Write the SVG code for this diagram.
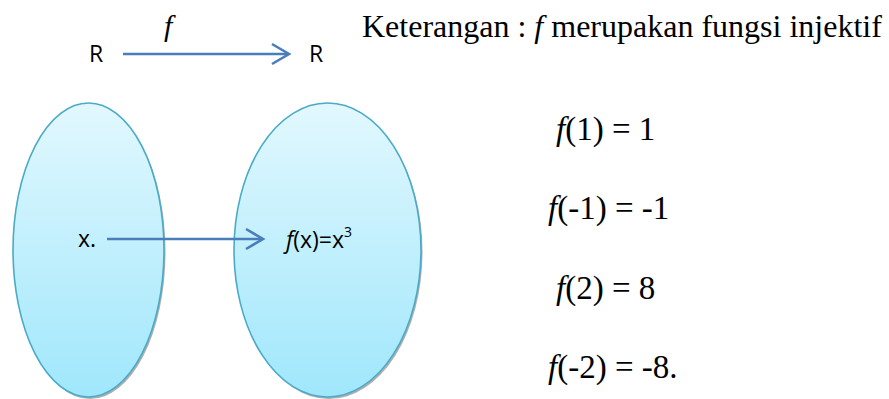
<svg xmlns="http://www.w3.org/2000/svg" width="889" height="399" viewBox="0 0 889 399">
<style>
.sans{font-family:"Open Sans","Liberation Sans",sans-serif;font-size:23px;fill:#000}
.serif{font-family:"Liberation Serif","Times New Roman",serif;fill:#000}
.it{font-style:italic}
.set{fill:url(#g);stroke:#4aabc8;stroke-width:1.6}
.shadow{fill:#9a9a9a;opacity:0.8}
.arrow{stroke:#4a7ebb;stroke-width:2.6;fill:none}
</style>
<defs>
<linearGradient id="g" x1="0" y1="0" x2="0" y2="1">
<stop offset="0" stop-color="#e2f8fe"/>
<stop offset="1" stop-color="#a0e7fc"/>
</linearGradient>
</defs>
<g id="setA">
<ellipse class="shadow" cx="90" cy="252" rx="75.5" ry="147"/>
<ellipse class="set" cx="88.5" cy="250" rx="75.5" ry="147"/>
<text class="sans" x="78" y="247">x.</text>
</g>
<g id="setB">
<ellipse class="shadow" cx="329" cy="252" rx="93.5" ry="147"/>
<ellipse class="set" cx="327.5" cy="250" rx="93.5" ry="147"/>
<text class="sans" x="286" y="248" font-size="24"><tspan class="it">f</tspan>(x)=x<tspan font-size="14" dy="-11">3</tspan></text>
</g>
<g id="R1"><text class="sans" x="89" y="62" font-size="24">R</text></g>
<g id="R2"><text class="sans" x="309" y="62" font-size="24">R</text></g>
<g id="connectors">
<line class="arrow" x1="123" y1="54" x2="288" y2="54"/>
<polyline class="arrow" points="272,44 289,54 272,64"/>
<line class="arrow" x1="107" y1="239" x2="261" y2="239"/>
<polyline class="arrow" points="246,229 263,239 246,249"/>
<text class="serif it" x="164" y="36" font-size="30">f</text>
</g>
<g id="note">
<text class="serif" x="362" y="37" font-size="32">Keterangan : <tspan class="it">f</tspan> merupakan fungsi injektif</text>
<text class="serif" font-size="33" x="556" y="140"><tspan class="it">f</tspan>(1) = 1</text>
<text class="serif" font-size="33" x="548" y="219"><tspan class="it">f</tspan>(-1) = -1</text>
<text class="serif" font-size="33" x="556" y="299"><tspan class="it">f</tspan>(2) = 8</text>
<text class="serif" font-size="33" x="548" y="378"><tspan class="it">f</tspan>(-2) = -8.</text>
</g>
</svg>
